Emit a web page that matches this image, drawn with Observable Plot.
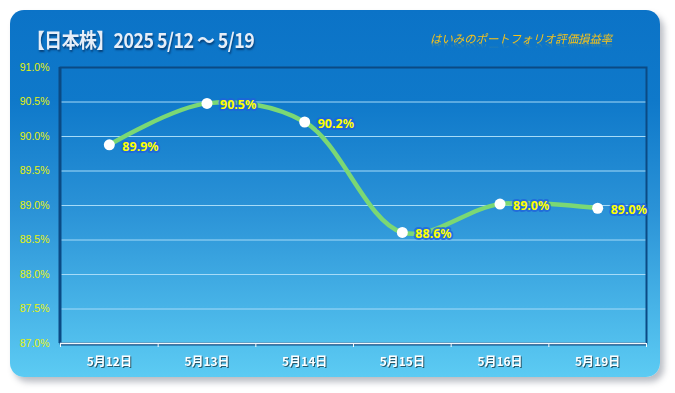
<!DOCTYPE html>
<html>
<head>
<meta charset="utf-8">
<script src="https://cdn.jsdelivr.net/npm/d3@7"></script>
<script src="https://cdn.jsdelivr.net/npm/@observablehq/plot@0.6"></script>
<style>
  html, body { margin: 0; padding: 0; background: #fff; }
  #wrap { position: relative; width: 675px; height: 393px; overflow: hidden; font-family: "Noto Sans CJK JP", "Noto Sans", sans-serif; }
  #card { position: absolute; left: 10px; top: 10px; width: 650px; height: 367px; border-radius: 14px;
    background: linear-gradient(to bottom, #0b73c7 0%, #0f79ca 25%, #2b93d7 55%, #5ccbf3 100%);
    box-shadow: 4px 5px 6px rgba(60,70,90,0.35); }
  #title { position: absolute; left: 27px; top: 24px; font-size: 20.5px; font-weight: bold; color: #e6eef8;
    letter-spacing: -0.6px; text-shadow: 1px 2px 2px rgba(0,30,70,0.6); white-space: nowrap;
    transform: scaleX(0.87); transform-origin: left center; }
  #subtitle { position: absolute; left: 430px; top: 30px; font-size: 11.4px; font-style: italic; color: #f5c21b;
    white-space: nowrap; -webkit-box-reflect: below -6px linear-gradient(transparent 45%, rgba(255,255,255,0.45)); }
  #chart { position: absolute; left: 0; top: 55px; }
</style>
</head>
<body>
<div id="wrap">
  <div id="card"></div>
  <div id="title">【日本株】2025 5/12 〜 5/19</div>
  <div id="subtitle">はいみのポートフォリオ評価損益率</div>
  <div id="chart"></div>
</div>
<script>
const dates = ["5月12日", "5月13日", "5月14日", "5月15日", "5月16日", "5月19日"];
const values = [89.88, 90.48, 90.21, 88.61, 89.02, 88.96];
const yTicks = [87.0, 87.5, 88.0, 88.5, 89.0, 89.5, 90.0, 90.5, 91.0];
const bandEdges = [-0.5, 0.5, 1.5, 2.5, 3.5, 4.5, 5.5];

const data = dates.map((d, i) => ({i, date: d, value: values[i]}));

const chart = Plot.plot({
  width: 675,
  height: 338,
  marginLeft: 60,
  marginRight: 29,
  marginTop: 12,
  marginBottom: 50,
  style: {background: "transparent", overflow: "visible"},
  x: {domain: [-0.5, 5.5]},
  y: {domain: [87, 91]},
  marks: [
    Plot.gridY(yTicks, {stroke: "#a6dbf8", strokeOpacity: 1, strokeWidth: 1}),
    Plot.frame({stroke: "#0b4a84", strokeWidth: 2}),
    Plot.ruleX([-0.5], {stroke: "#0b4a84", strokeWidth: 2, dx: -1}),
    Plot.ruleY([87], {stroke: "#0b4a84", strokeWidth: 2, dy: 1}),
    Plot.ruleY([87], {stroke: "#f2f8fc", strokeWidth: 1.3}),
    Plot.axisY(yTicks, {
      tickSize: 0, tickPadding: 11, fill: "#e6f20a", fontSize: 10.5,
      fontFamily: "Liberation Sans, sans-serif",
      tickFormat: d => d.toFixed(1) + "%", label: null
    }),
    Plot.axisX(bandEdges, {tickSize: 4, stroke: "#f2f8fc", tickFormat: () => "", label: null}),
    Plot.axisX([0, 1, 2, 3, 4, 5], {
      tickSize: 0, tickPadding: 14, fill: "#ffffff", fontSize: 12, fontWeight: "bold",
      fontFamily: "Noto Sans CJK JP, sans-serif",
      tickFormat: i => dates[i], label: null
    }),
    Plot.line(data, {x: "i", y: "value", curve: "catmull-rom", stroke: "#7bd874", strokeWidth: 4.5, strokeLinecap: "round"}),
    Plot.dot(data, {x: "i", y: "value", r: 5.5, fill: "#ffffff", stroke: null}),
    Plot.text(data, {
      x: "i", y: "value", text: d => d.value.toFixed(1) + "%",
      dx: 13, dy: 2, textAnchor: "start", fill: "#ffff00", fontSize: 12.5, fontWeight: "bold",
      fontFamily: "Noto Sans, sans-serif",
      stroke: "#1f62dc", strokeWidth: 4, strokeOpacity: 0.75, paintOrder: "stroke"
    })
  ]
});

document.getElementById("chart").appendChild(chart);
d3.select(chart).selectAll('g[aria-label="x-axis tick label"]')
  .style("filter", "drop-shadow(1px 1px 0.6px rgba(0,0,0,0.55))");
</script>
</body>
</html>
